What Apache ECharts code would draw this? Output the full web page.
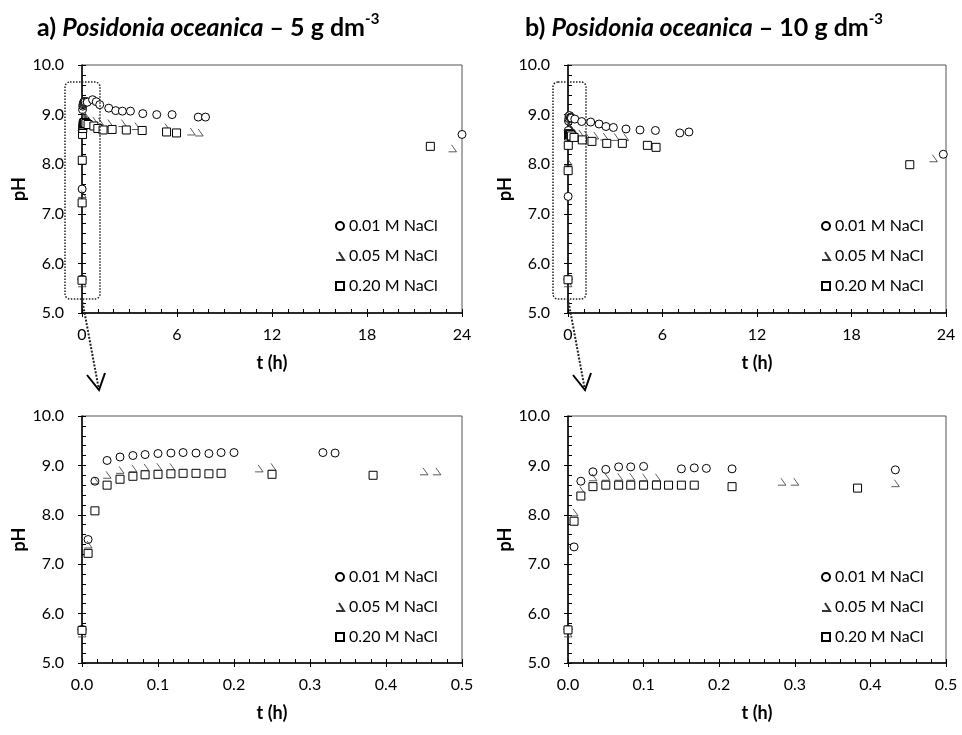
<!DOCTYPE html>
<html>
<head>
<meta charset="utf-8">
<script src="https://cdn.jsdelivr.net/npm/echarts@6/dist/echarts.min.js"></script>
<style>
  html, body { margin: 0; padding: 0; background: #fff; }
  #main { width: 962px; height: 735px; }
</style>
</head>
<body>
<div id="main"></div>
<script>
// series names
var seriesNames = ['0.01 M NaCl', '0.05 M NaCl', '0.20 M NaCl'];
var xTicksLong = [0, 6, 12, 18, 24];
var xTicksShort = [0.0, 0.1, 0.2, 0.3, 0.4, 0.5];

// a) 5 g dm-3   [t (h), pH]
var naCl001_5g = [[0,5.68],[0.008,7.5],[0.017,8.68],[0.033,9.1],[0.05,9.17],[0.067,9.2],[0.083,9.22],[0.1,9.24],[0.117,9.25],[0.133,9.26],[0.15,9.25],[0.167,9.24],[0.183,9.26],[0.2,9.26],[0.317,9.26],[0.333,9.25],[0.67,9.3],[0.9,9.26],[1.12,9.2],[1.69,9.13],[2.13,9.08],[2.55,9.07],[3.06,9.07],[3.84,9.02],[4.72,9.0],[5.69,9.0],[7.34,8.95],[7.8,8.95],[24,8.6]];
var naCl005_5g = [[0,5.6],[0.008,7.4],[0.017,8.7],[0.033,8.81],[0.05,8.91],[0.067,8.94],[0.083,8.96],[0.1,8.97],[0.117,8.97],[0.233,8.94],[0.25,8.97],[0.45,8.88],[0.467,8.88],[0.75,8.88],[1.1,8.86],[1.7,8.83],[2.55,8.83],[3.4,8.77],[5.3,8.75],[6.9,8.66],[7.4,8.64],[23.4,8.32]];
var naCl020_5g = [[0,5.66],[0.008,7.22],[0.017,8.08],[0.033,8.6],[0.05,8.72],[0.067,8.78],[0.083,8.81],[0.1,8.82],[0.117,8.83],[0.133,8.84],[0.15,8.84],[0.167,8.83],[0.183,8.84],[0.25,8.82],[0.383,8.8],[0.75,8.77],[1.0,8.72],[1.33,8.69],[1.9,8.7],[2.8,8.69],[3.8,8.68],[5.34,8.65],[5.97,8.63],[22,8.36]];

// b) 10 g dm-3
var naCl001_10g = [[0,5.68],[0.008,7.35],[0.017,8.68],[0.033,8.87],[0.05,8.92],[0.067,8.97],[0.083,8.97],[0.1,8.98],[0.15,8.93],[0.167,8.95],[0.183,8.94],[0.217,8.93],[0.433,8.91],[0.87,8.86],[1.44,8.85],[1.97,8.81],[2.41,8.76],[2.88,8.74],[3.68,8.71],[4.57,8.69],[5.55,8.68],[7.1,8.63],[7.68,8.65],[23.83,8.2]];
var naCl005_10g = [[0,5.6],[0.008,8.05],[0.017,8.5],[0.033,8.76],[0.05,8.77],[0.067,8.77],[0.083,8.77],[0.1,8.76],[0.117,8.76],[0.283,8.67],[0.3,8.67],[0.433,8.64],[0.75,8.62],[1.1,8.6],[1.7,8.58],[2.3,8.56],[3.0,8.55],[3.6,8.55],[23.2,8.12]];
var naCl020_10g = [[0,5.67],[0.008,7.87],[0.017,8.38],[0.033,8.57],[0.05,8.6],[0.067,8.6],[0.083,8.6],[0.1,8.6],[0.117,8.6],[0.133,8.6],[0.15,8.6],[0.167,8.6],[0.217,8.57],[0.383,8.54],[0.91,8.49],[1.52,8.46],[2.46,8.42],[3.45,8.42],[5.04,8.38],[5.59,8.34],[21.7,7.99]];

var FONT = 'Lato';
var triPath = 'path://M3,0 L8,8 L0,8';
var symbols = ['circle', triPath, 'rect'];
var symbolSizes = [8, [8, 7], 8];

var dom = document.getElementById('main');
var chart = echarts.init(dom);

// grids: TL, TR, BL, BR
var grids = [
    {left: 82, top: 65, width: 380, height: 248},
    {left: 568, top: 65, width: 378, height: 248},
    {left: 82, top: 416, width: 380, height: 247},
    {left: 568, top: 416, width: 378, height: 247}
];
var datasets = [
    [naCl001_5g, naCl005_5g, naCl020_5g],
    [naCl001_10g, naCl005_10g, naCl020_10g],
    [naCl001_5g, naCl005_5g, naCl020_5g],
    [naCl001_10g, naCl005_10g, naCl020_10g]
];

var option = {
    backgroundColor: '#fff',
    animation: false,
    textStyle: {fontFamily: FONT, color: '#000'},
    title: [],
    grid: [],
    xAxis: [],
    yAxis: [],
    legend: [],
    series: [],
    graphic: []
};

var titleRich = {
    b: {fontFamily: FONT, fontSize: 25, fontWeight: 'bold', color: '#000'},
    i: {fontFamily: FONT, fontSize: 25, fontWeight: 'bold', fontStyle: 'italic', color: '#000'},
    s: {fontFamily: FONT, fontSize: 15, fontWeight: 'bold', color: '#000', padding: [0, 0, 16, 0]}
};
option.title.push({left: 32, top: 7, text: '{b|a) }{i|Posidonia oceanica}{b| – 5 g dm}{s|-3}', textStyle: {rich: titleRich}});
option.title.push({left: 520, top: 7, text: '{b|b) }{i|Posidonia oceanica}{b| – 10 g dm}{s|-3}', textStyle: {rich: titleRich}});

for (var g = 0; g < 4; g++) {
    var gr = grids[g];
    option.grid.push({left: gr.left, top: gr.top, width: gr.width, height: gr.height,
        show: true, borderColor: '#555', borderWidth: 1, backgroundColor: 'transparent'});
    var isLong = g < 2;
    var xTicks = isLong ? xTicksLong : xTicksShort;
    var xMin = xTicks[0], xMax = xTicks[xTicks.length - 1];
    var xInt = xTicks[1] - xTicks[0];
    var mainX = {
        type: 'value', gridIndex: g, position: 'bottom',
        min: xMin, max: xMax, interval: xInt,
        name: 't (h)', nameLocation: 'middle', nameGap: 41,
        nameTextStyle: {fontFamily: FONT, fontSize: 18, fontWeight: 'bold', color: '#000'},
        axisLine: {onZero: false, lineStyle: {color: '#000', width: 1.5}},
        axisTick: {inside: true, length: 4, lineStyle: {color: '#000'}},
        minorTick: {show: true, splitNumber: isLong ? 6 : 5, length: 4, lineStyle: {color: '#000'}},
        axisLabel: {fontFamily: FONT, fontSize: 16, color: '#000', margin: 14},
        splitLine: {show: false}
    };
    mainX.axisLabel.formatter = isLong ? function (v) { return String(Math.round(v)); }
                                       : function (v) { return v.toFixed(1); };
    var extraX = {
        type: 'value', gridIndex: g, position: 'bottom', offset: 0,
        min: xMin, max: xMax, interval: xInt,
        axisLine: {show: false}, axisLabel: {show: false}, splitLine: {show: false},
        axisTick: {show: true, inside: false, length: 4, lineStyle: {color: '#000'}}
    };
    option.xAxis.push(mainX, extraX);

    var mainY = {
        type: 'value', gridIndex: g, position: 'left',
        min: 5, max: 10, interval: 1,
        name: 'pH', nameLocation: 'middle', nameGap: 54, nameRotate: 90,
        nameTextStyle: {fontFamily: FONT, fontSize: 18, fontWeight: 'bold', color: '#000'},
        axisLine: {onZero: false, lineStyle: {color: '#000', width: 1.5}},
        axisTick: {inside: true, length: 4, lineStyle: {color: '#000'}},
        minorTick: {show: true, splitNumber: 5, length: 4, lineStyle: {color: '#000'}},
        axisLabel: {fontFamily: FONT, fontSize: 16, color: '#000', margin: 18,
            formatter: function (v) { return v.toFixed(1); }},
        splitLine: {show: false}
    };
    var extraY = {
        type: 'value', gridIndex: g, position: 'left', offset: 0,
        min: 5, max: 10, interval: 1,
        axisLine: {show: false}, axisLabel: {show: false}, splitLine: {show: false},
        axisTick: {show: true, inside: false, length: 4, lineStyle: {color: '#000'}}
    };
    option.yAxis.push(mainY, extraY);

    for (var s = 0; s < 3; s++) {
        option.series.push({
            name: seriesNames[s],
            type: 'scatter',
            xAxisIndex: 2 * g,
            yAxisIndex: 2 * g,
            data: datasets[g][s],
            symbol: symbols[s],
            symbolSize: symbolSizes[s],
            clip: true,
            z: 2 + s,
            itemStyle: {
                color: s === 1 ? 'rgba(255,255,255,0)' : '#fff',
                borderColor: s === 1 ? '#333' : '#000',
                borderWidth: s === 1 ? 0.8 : 1,
                opacity: 1
            }
        });
    }

    option.legend.push({
        orient: 'vertical',
        left: gr.left + 248,
        top: gr.top + 148,
        itemWidth: 8,
        itemHeight: 8,
        itemGap: 14,
        selectedMode: false,
        textStyle: {fontFamily: FONT, fontSize: 16, color: '#000'},
        data: seriesNames
    });
}

// zoom markers: dotted box around the first half hour and an arrow down to the detail plot
var boxes = [{x: 65, y: 82, w: 35, h: 217, ax: 82, ay: 299, bx: 99, by: 390},
             {x: 553, y: 82, w: 33, h: 217, ax: 568, ay: 299, bx: 585, by: 390}];
boxes.forEach(function (b) {
    option.graphic.push({
        type: 'rect', shape: {x: b.x, y: b.y, width: b.w, height: b.h, r: 5},
        style: {fill: 'none', stroke: '#222', lineWidth: 1.5, lineDash: [1.5, 1.5]}, z: 10
    });
    option.graphic.push({
        type: 'line', shape: {x1: b.ax, y1: b.ay, x2: b.bx, y2: b.by},
        style: {stroke: '#222', lineWidth: 2, lineDash: [2, 1.5]}, z: 10
    });
    option.graphic.push({
        type: 'polyline', shape: {points: [[b.bx - 12, b.by - 15], [b.bx, b.by], [b.bx + 6, b.by - 17]]},
        style: {stroke: '#000', lineWidth: 2, fill: 'none'}, z: 10
    });
});

chart.setOption(option);
window.addEventListener('resize', function () {
    chart.resize();
});
</script>
</body>
</html>
